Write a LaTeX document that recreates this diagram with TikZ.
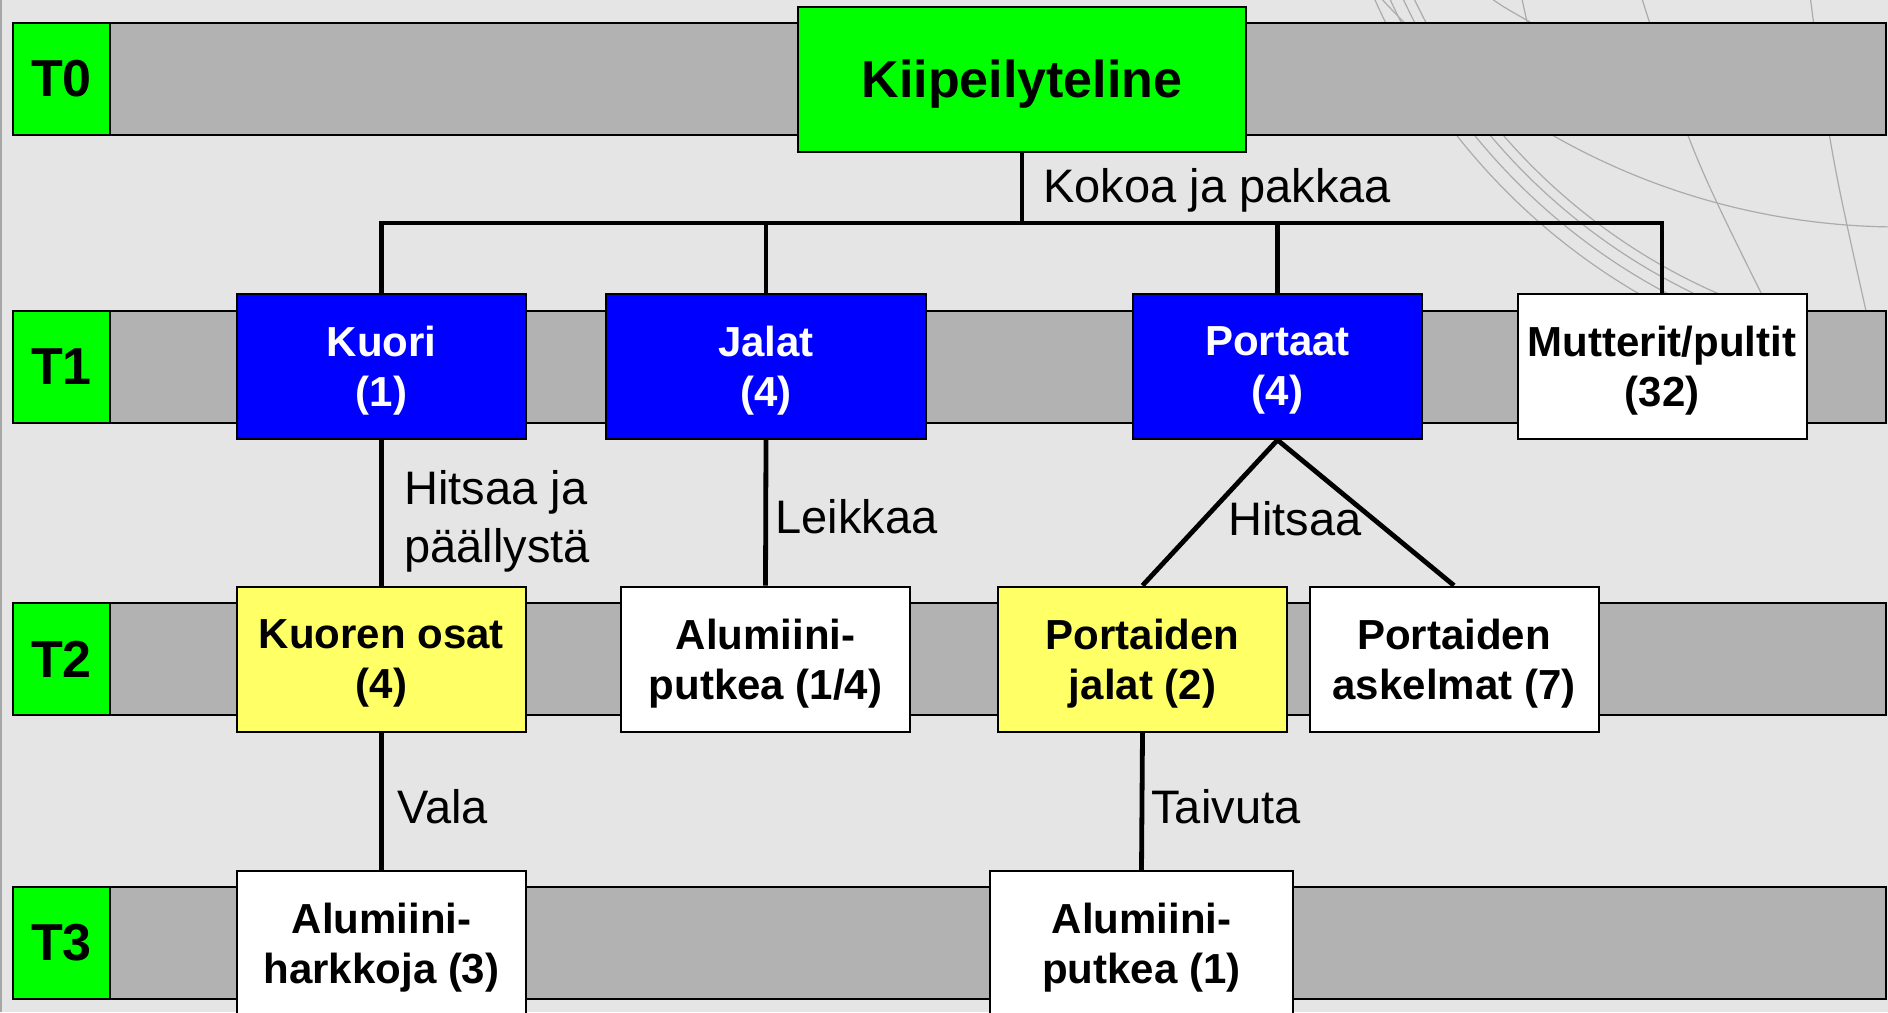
\documentclass[tikz,border=0pt]{standalone}
\usepackage{fontspec}
\setmainfont{Liberation Sans}
\usepackage{tikz}

\definecolor{slide}{HTML}{E5E5E5}
\definecolor{bandgray}{HTML}{B2B2B2}
\definecolor{tiergreen}{HTML}{00FF00}
\definecolor{partblue}{HTML}{0000FF}
\definecolor{partyellow}{HTML}{FFFF66}
\definecolor{globe}{HTML}{ABABAB}

\newcommand{\tierfont}{\fontsize{26}{31}\selectfont\bfseries}
\newcommand{\partfont}{\fontsize{21}{25}\selectfont\bfseries}
\newcommand{\opfont}{\fontsize{23.5}{29}\selectfont}

\tikzset{band/.style={draw=black, line width=0.8pt, fill=bandgray},
	tier/.style={draw=black, line width=0.8pt, fill=tiergreen, minimum width=48.5pt,
		minimum height=56pt, inner sep=0pt, font=\tierfont},
	part/.style={draw=black, line width=1pt, fill=#1, minimum width=144.5pt,
		minimum height=72.5pt, inner sep=0pt, text depth=0pt, align=center, font=\partfont},
	part/.default=white,
	link/.style={line width=2.4pt},
	op/.style={anchor=base west, inner sep=0pt, align=left, font=\opfont},
	globeline/.style={draw=globe, line width=0.6pt}}

\begin{document}
\begin{tikzpicture}[x=0.5pt, y=-0.5pt]
	
	\useasboundingbox (0,0) rectangle (1888,1012);
	\fill[slide] (0,0) rectangle (1888,1012);
	\draw[gray!70, line width=0.6pt] (1,0) -- (1,1012);
	
	% faint globe in the corner
	\begin{scope}
	\clip (1350,0) rectangle (1888,311);
	\foreach \r in {604,614,626,640}
		\draw[globeline] (1960,-260) circle [radius=\r];
	\draw[globeline] (1900,-476) circle [radius=703];
	\draw[globeline] (1636,-20) .. controls (1690,150) .. (1770,311);
	\draw[globeline] (1808,-20) .. controls (1830,150) .. (1866,311);
	\draw[globeline] (1480,-10) .. controls (1500,5) .. (1530,22);
	\draw[globeline] (1520,-10) -- (1527,22);
	\end{scope}
	
	% tiers
	\foreach \y in {23,311,603,887}
		\draw[band] (13,\y) rectangle (1886,\y+112);
	
	\node[tier] (t0) at (61.5,79) {T0};
	\node[tier] (t1) at (61.5,367) {T1};
	\node[tier] (t2) at (61.5,659) {T2};
	\node[tier] (t3) at (61.5,943) {T3};
	
	% parts
	\node[part=tiergreen, minimum width=224pt, font=\tierfont] (kiip) at (1022,79) {Kiipeilyteline};
	
	\node[part=partblue, text=white] (kuori) at (381.5,366.5) {Kuori\\(1)};
	\node[part=partblue, text=white, minimum width=160pt] (jalat) at (766,366.5) {Jalat\\(4)};
	\node[part=partblue, text=white] (portaat) at (1277.5,366.5) {Portaat\\(4)};
	\node[part] (mutterit) at (1662,366.5) {Mutterit/pultit\\(32)};
	
	\node[part=partyellow] (osat) at (381.5,659) {Kuoren osat\\(4)};
	\node[part] (putki) at (765.5,659) {Alumiini-\\putkea (1/4)};
	\node[part=partyellow] (pjalat) at (1142.5,659) {Portaiden\\jalat (2)};
	\node[part] (askel) at (1454,659) {Portaiden\\askelmat (7)};
	
	\node[part] (harkko) at (381.5,943.5) {Alumiini-\\harkkoja (3)};
	\node[part, minimum width=151.5pt] (putkiT) at (1141.5,943.5) {Alumiini-\\putkea (1)};
	
	% connectors
	\coordinate (hub) at (1022,223);
	\draw[link] (kiip.south) -- (hub);
	\draw[link] (kuori.north) |- (hub) -| (mutterit.north);
	\draw[link] (jalat.north) -- (jalat.north |- hub);
	\draw[link] (portaat.north) -- (portaat.north |- hub);
	
	\draw[link] (kuori.south) -- (osat.north);
	\draw[link] (jalat.south) -- (putki.north);
	\draw[link] (portaat.south) -- (pjalat.north);
	\draw[link] (portaat.south) -- (askel.north);
	
	\draw[link] (osat.south) -- (harkko.north);
	\draw[link] (pjalat.south) -- (putkiT.north);
	
	% operations
	\node[op] (kokoa) at (1043,202) {Kokoa ja pakkaa};
	\node[op] (hitsaa) at (404,562) {Hitsaa ja\\päällystä};
	\node[op] (leikkaa) at (775,533) {Leikkaa};
	\node[op] (hitsaaP) at (1228,535) {Hitsaa};
	\node[op] (vala) at (397,823) {Vala};
	\node[op] (taivuta) at (1151,823) {Taivuta};
	
\end{tikzpicture}
\end{document}
